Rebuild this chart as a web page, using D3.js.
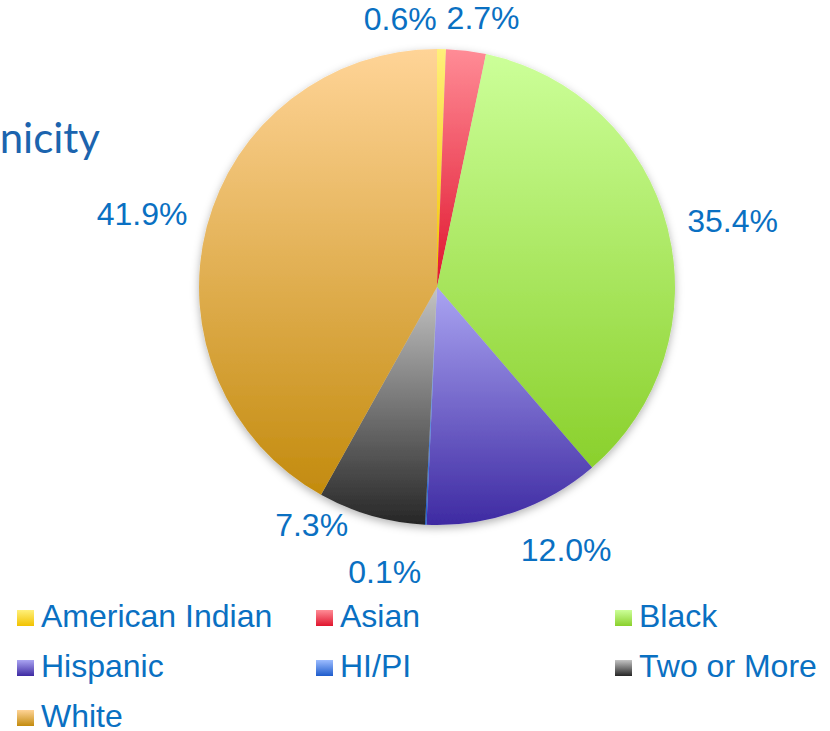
<!DOCTYPE html>
<html>
<head>
<meta charset="utf-8">
<script src="https://cdn.jsdelivr.net/npm/d3@7"></script>
<style>
  body { margin: 0; background: #fff; }
  svg { display: block; }
</style>
</head>
<body>
<svg id="chart"></svg>
<script>
// data (percent of students)
const categories = ["American Indian", "Asian", "Black", "Hispanic", "HI/PI", "Two or More", "White"];
const shares = [0.6, 2.7, 35.4, 12.0, 0.1, 7.3, 41.9];
const labels = ["0.6%", "2.7%", "35.4%", "12.0%", "0.1%", "7.3%", "41.9%"];
// gradient top / bottom colours per slice
const colorTop = ["#fff07a", "#ff8c96", "#ccff99", "#aaa4f2", "#9cbcff", "#c4c4c4", "#ffd497"];
const colorBottom = ["#f2c200", "#e0152e", "#8ad02c", "#3e2aa2", "#1e5ccc", "#262626", "#c38b0e"];

// layout
const width = 830, height = 731;
const cx = 437, cy = 287, radius = 238;
const labelGap = 23;
const labelFont = 32;
// small nudges Excel applied to keep labels apart (degrees / px)
const labelAngleNudge = [-8.9, 2.7, 1.8, -7.1, 7.7, 11.8, -0.6];
const labelRadiusNudge = [-7, -6, -5, 1, 10, -20, -4];

const svg = d3.select("#chart")
    .attr("width", width)
    .attr("height", height);

const defs = svg.append("defs");

categories.forEach((c, i) => {
    const g = defs.append("linearGradient")
        .attr("id", "grad" + i)
        .attr("x1", 0).attr("y1", 0)
        .attr("x2", 0).attr("y2", 1);
    g.append("stop").attr("offset", "0%").attr("stop-color", colorTop[i]);
    g.append("stop").attr("offset", "100%").attr("stop-color", colorBottom[i]);
});

const shadow = defs.append("filter")
    .attr("id", "shadow")
    .attr("x", "-10%").attr("y", "-10%")
    .attr("width", "120%").attr("height", "125%");
shadow.append("feDropShadow")
    .attr("dx", 0).attr("dy", 3)
    .attr("stdDeviation", 4)
    .attr("flood-color", "#000")
    .attr("flood-opacity", 0.3);

// title, mostly cut off at the left edge
svg.append("text")
    .attr("x", 100)
    .attr("y", 153)
    .attr("text-anchor", "end")
    .attr("font-family", "Lato, 'Open Sans', sans-serif")
    .attr("font-size", 42)
    .attr("fill", "#1c64ae")
    .text("Race/Ethnicity");

const pie = d3.pie().sort(null).value(d => d);
const arcs = pie(shares);
const arc = d3.arc().innerRadius(0).outerRadius(radius);

const pieG = svg.append("g")
    .attr("transform", `translate(${cx},${cy})`);

pieG.append("g")
    .attr("filter", "url(#shadow)")
    .selectAll("path")
    .data(arcs)
    .join("path")
    .attr("d", arc)
    .attr("fill", (d, i) => `url(#grad${i})`);

// data labels: placed outside the pie along each slice's mid angle
const labelG = pieG.append("g")
    .attr("font-family", "'Liberation Sans', Arial, sans-serif")
    .attr("font-size", labelFont)
    .attr("fill", "#0a70c2");

labelG.selectAll("text")
    .data(arcs)
    .join("text")
    .attr("text-anchor", "middle")
    .attr("dy", "0.36em")
    .text((d, i) => labels[i])
    .each(function (d, i) {
        const t = d3.select(this);
        const w = this.getComputedTextLength();
        const a = (d.startAngle + d.endAngle) / 2 + labelAngleNudge[i] * Math.PI / 180;
        const s = Math.sin(a), c = Math.cos(a);
        const r = radius + labelGap + (w / 2) * Math.abs(s) + 12 * Math.abs(c) + labelRadiusNudge[i];
        t.attr("x", r * s).attr("y", -r * c);
    });

// legend: three columns
const legendX = d3.scalePoint().domain([0, 1, 2]).range([17, 615]);
const legendY = d3.scalePoint().domain([0, 1, 2]).range([627, 727]);

const legend = svg.append("g")
    .attr("font-family", "'Liberation Sans', Arial, sans-serif")
    .attr("font-size", labelFont)
    .attr("fill", "#0a70c2");

const items = legend.selectAll("g")
    .data(categories)
    .join("g")
    .attr("transform", (d, i) => `translate(${legendX(i % 3)},${legendY(Math.floor(i / 3))})`);

items.append("rect")
    .attr("x", 0)
    .attr("y", -17)
    .attr("width", 17)
    .attr("height", 16)
    .attr("fill", (d, i) => `url(#grad${i})`);

items.append("text")
    .attr("x", 24)
    .attr("y", 0)
    .text(d => d);
</script>
</body>
</html>
